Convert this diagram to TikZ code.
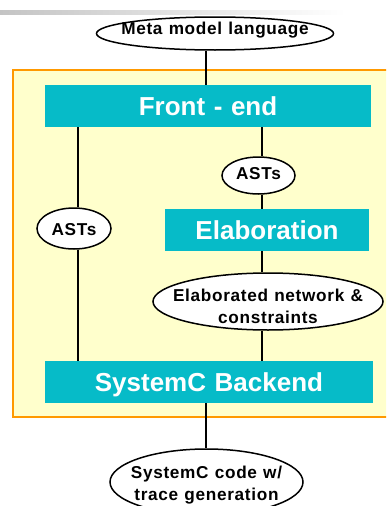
\documentclass[tikz,border=0pt]{standalone}
\usepackage{fontspec}
\setmainfont{Liberation Sans}
\usetikzlibrary{shapes.geometric}

\definecolor{boxcyan}{RGB}{6,187,200}
\definecolor{paneyellow}{RGB}{255,255,204}
\definecolor{paneorange}{RGB}{255,153,0}
\definecolor{fadegray}{RGB}{196,196,196}

% fonts of the stage boxes and of the data ellipses
\newcommand\stagefont{\fontsize{26}{30}\selectfont\bfseries\setlength\spaceskip{8.6pt}}
\newcommand\datafont{\fontsize{17.2}{22}\selectfont\bfseries
  \addfontfeature{LetterSpace=4}\setlength\spaceskip{6.2pt}}

% Text of a data ellipse: takes no room, so the ellipse keeps its given size.
% Optional argument: downward offset of the text from the ellipse centre.
\newcommand\etext[2][0]{%
  \raisebox{\dimexpr-6pt-#1pt\relax}[0pt][0pt]{%
    \makebox[0pt]{\begin{tabular}{@{}c@{}}#2\end{tabular}}}}

\begin{document}
\begin{tikzpicture}[x=1pt,y=-1pt,
  stagebox/.style={draw=none, fill=boxcyan, text=white, inner sep=0pt,
    font=\stagefont, text height=18.5pt, text depth=0pt},
  data/.style={ellipse, draw=black, line width=1.5pt, fill=white,
    inner sep=0pt, font=\datafont},
  link/.style={line width=1.8pt, line cap=butt}]

\useasboundingbox (0,0) rectangle (386,506);
\clip (0,0) rectangle (386,506);

% fading rule at the top
\shade[left color=fadegray, right color=white] (0,10) rectangle (345,14);

% tool pane
\draw[fill=paneyellow, draw=paneorange, line width=1.6pt]
  (13,70) rectangle (400,417);

% processing stages
\node[stagebox, minimum width=326, minimum height=42] (fe)   at (208,106) {Front - end};
\node[stagebox, minimum width=204, minimum height=42] (elab) at (267,230) {Elaboration};
\node[stagebox, minimum width=328, minimum height=42] (be)   at (209,382) {SystemC Backend};

% data between stages
\node[data, minimum width=237, minimum height=33] (meta) at (215,33.5)
  {\etext[-5.5]{Meta model language}};
\node[data, minimum width=73, minimum height=37] (astr) at (258.5,175.5)
  {\etext[-2.5]{ASTs}};
\node[data, minimum width=74, minimum height=41] (astl) at (74,228.5)
  {\etext[1]{ASTs}};
\node[data, minimum width=230, minimum height=57] (enet) at (268,301.5)
  {\etext[5]{Elaborated network \&\\constraints}};
\node[data, minimum width=193, minimum height=66] (code) at (206.5,482)
  {\etext[1]{SystemC code w/\\trace generation}};

% flow lines
\coordinate (trunk) at (206,0);
\coordinate (lx) at (78,0);
\coordinate (rx) at (262,0);

\draw[link] (meta.south -| trunk) -- (fe.north -| trunk);
\draw[link] (fe.south -| lx) -- (astl.north -| lx);
\draw[link] (astl.south -| lx) -- (be.north -| lx);
\draw[link] (fe.south -| rx) -- (astr.north -| rx);
\draw[link] (astr.south -| rx) -- (elab.north -| rx);
\draw[link] (elab.south -| rx) -- (enet.north -| rx);
\draw[link] (enet.south -| rx) -- (be.north -| rx);
\draw[link] (be.south -| trunk) -- (code.north -| trunk);
\end{tikzpicture}
\end{document}
